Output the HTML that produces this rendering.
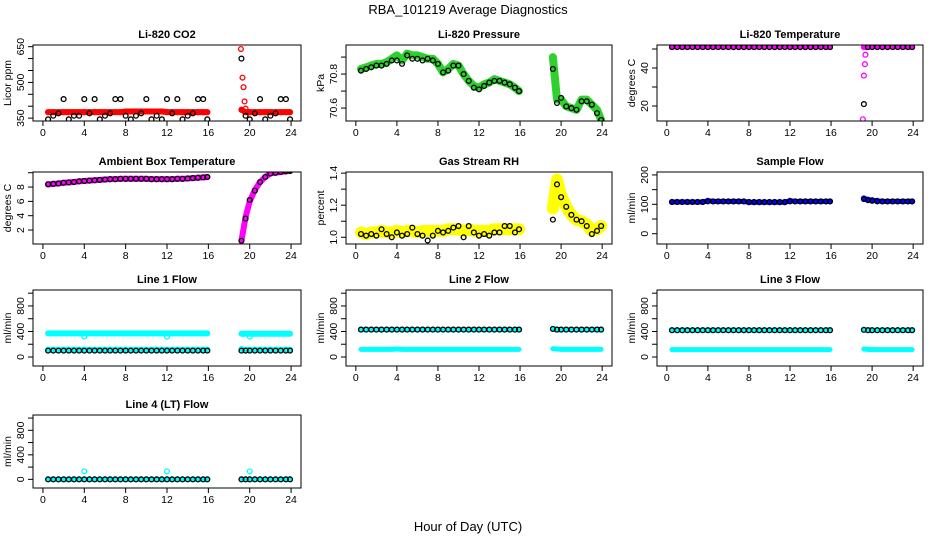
<!DOCTYPE html>
<html><head><meta charset="utf-8">
<style>
html,body{margin:0;padding:0;background:#fff;}
svg{display:block;font-family:"Liberation Sans",Arial,sans-serif;}
</style></head>
<body>
<svg id="chart" width="936" height="540" viewBox="0 0 936 540" xmlns="http://www.w3.org/2000/svg">
<text x="468" y="14" text-anchor="middle" font-size="13">RBA_101219  Average Diagnostics</text>
<text x="468" y="531" text-anchor="middle" font-size="13">Hour of Day (UTC)</text>
</svg>
<script>
// shared x categories (hour of day)
const hours = [0.5,1.0,1.5,2.0,2.5,3.0,3.5,4.0,4.5,5.0,5.5,6.0,6.5,7.0,7.5,8.0,8.5,9.0,9.5,10.0,10.5,11.0,11.5,12.0,12.5,13.0,13.5,14.0,14.5,15.0,15.5,15.9,
               19.2,19.6,20.0,20.5,21.0,21.5,22.0,22.5,23.0,23.5,23.9];
const xTicks = [0,4,8,12,16,20,24];

// Li-820 CO2
const co2Black = [345,360,370,430,345,360,360,430,370,430,345,360,370,430,430,360,345,360,370,430,345,360,345,430,370,430,345,360,370,430,430,345,
                  600,360,345,370,430,345,360,370,430,430,345];
const co2Red = [375,375,375,375,375,375,375,375,375,375,375,375,375,375,375,378,378,378,378,378,378,378,378,375,375,375,375,375,375,375,375,375,
                385,375,375,375,375,375,375,375,375,375,375];
const co2PeakT = [19.15,19.3,19.4,19.5,19.6];
const co2PeakV = [640,520,480,420,390];

// Li-820 Pressure
const presGreen = [70.83,70.84,70.85,70.86,70.86,70.87,70.89,70.91,70.88,70.92,70.91,70.91,70.90,70.89,70.89,70.86,70.81,70.83,70.86,70.85,70.80,70.76,70.73,70.72,70.74,70.75,70.77,70.76,70.75,70.74,70.72,70.70,
                   70.90,70.65,70.65,70.61,70.60,70.59,70.65,70.65,70.62,70.59,70.53];
const presBlack = [70.82,70.83,70.84,70.85,70.85,70.86,70.88,70.88,70.86,70.91,70.89,70.89,70.88,70.89,70.88,70.86,70.81,70.82,70.85,70.85,70.80,70.76,70.72,70.71,70.73,70.75,70.76,70.76,70.75,70.74,70.72,70.70,
                   70.83,70.63,70.66,70.61,70.60,70.59,70.64,70.64,70.62,70.57,70.53];

// Li-820 Temperature
const tempMag = [51,51,51,51,51,51,51,51,51,51,51,51,51,51,51,51,51,51,51,51,51,51,51,51,51,51,51,51,51,51,51,51,
                 51,51,51,51,51,51,51,51,51,51,51];
const tempBlack = [51,51,51,51,51,51,51,51,51,51,51,51,51,51,51,51,51,51,51,51,51,51,51,51,51,51,51,51,51,51,51,51,
                   21,51,51,51,51,51,51,51,51,51,51];
const tempPeakT = [19.1,19.2,19.3,19.35,19.45];
const tempPeakV = [13,36,42,47,51];

// Ambient box temperature
const ambMag = [8.35,8.45,8.5,8.6,8.65,8.7,8.8,8.85,8.9,8.95,9.0,9.05,9.1,9.1,9.15,9.15,9.15,9.15,9.15,9.15,9.1,9.1,9.1,9.1,9.1,9.15,9.15,9.2,9.25,9.3,9.35,9.4,
                0.5,3.8,6.0,7.6,8.7,9.4,9.9,10.0,10.1,10.2,10.25];
const ambBlack = [8.4,8.45,8.5,8.6,8.65,8.7,8.8,8.85,8.9,8.95,9.0,9.05,9.1,9.1,9.15,9.15,9.15,9.15,9.15,9.15,9.1,9.1,9.1,9.1,9.1,9.15,9.15,9.2,9.25,9.3,9.35,9.4,
                  0.5,3.6,6.2,7.5,8.7,9.4,9.9,10.0,10.1,10.2,10.25];

// Gas stream RH
const rhYellow = [1.03,1.02,1.03,1.03,1.04,1.03,1.03,1.04,1.03,1.04,1.04,1.03,1.04,1.04,1.04,1.04,1.04,1.05,1.05,1.05,1.04,1.05,1.04,1.04,1.04,1.04,1.05,1.05,1.05,1.05,1.05,1.05,
                  1.18,1.36,1.26,1.19,1.14,1.11,1.10,1.08,1.04,1.05,1.07];
const rhBlack = [1.02,1.01,1.02,1.01,1.05,1.02,1.0,1.03,1.01,1.02,1.06,1.02,1.01,0.98,1.01,1.04,1.03,1.04,1.06,1.07,1.0,1.07,1.03,1.01,1.02,1.01,1.03,1.03,1.07,1.07,1.03,1.05,
                 1.11,1.33,1.25,1.19,1.14,1.11,1.10,1.07,1.02,1.04,1.07];

// Sample flow
const sfBlue = [108,108,108,108,108,108,108,112,110,110,110,110,110,110,110,107,107,107,107,107,107,107,107,112,110,110,110,110,110,110,110,110,
                120,116,114,112,110,110,110,110,110,110,110];
const sfBlack = [108,108,108,108,108,108,108,110,110,110,110,110,110,110,110,108,108,108,108,108,108,108,108,110,110,110,110,110,110,110,110,110,
                 118,114,112,110,110,110,110,110,110,110,110];

// Line flows
const l1High = [370,370,370,370,370,370,370,370,370,370,370,370,370,370,370,370,370,370,370,370,370,370,370,370,370,370,370,370,370,370,370,370,
                365,365,365,365,365,365,365,365,365,365,365];
const l1Low = [115,115,115,115,115,115,115,115,115,115,115,115,115,115,115,115,115,115,115,115,115,115,115,115,115,115,115,115,115,115,115,115,
               125,115,115,115,115,115,115,115,115,115,115];
const l1Black = [100,100,100,100,100,100,100,100,100,100,100,100,100,100,100,100,100,100,100,100,100,100,100,100,100,100,100,100,100,100,100,100,
                 100,100,100,100,100,100,100,100,100,100,100];
const l2High = [430,430,430,430,430,430,430,430,430,430,430,430,430,430,430,430,430,430,430,430,430,430,430,430,430,430,430,430,430,430,430,430,
                440,430,430,430,430,430,430,430,430,430,430];
const l2Low = [120,120,120,120,120,120,120,125,120,120,120,120,120,120,120,120,120,120,120,120,120,120,120,120,120,120,120,120,120,120,120,120,
               130,125,120,120,120,120,120,120,120,120,120];
const l2Black = [430,430,430,430,430,430,430,430,430,430,430,430,430,430,430,430,430,430,430,430,430,430,430,430,430,430,430,430,430,430,430,430,
                 440,430,430,430,430,430,430,430,430,430,430];
const l3High = [420,420,420,420,420,420,420,420,420,420,420,420,420,420,420,420,420,420,420,420,420,420,420,420,420,420,420,420,420,420,420,420,
                430,420,420,420,420,420,420,420,420,420,420];
const l3Low = [115,115,115,115,115,115,115,115,115,115,115,115,115,115,115,115,115,115,115,115,115,115,115,115,115,115,115,115,115,115,115,115,
               125,120,115,115,115,115,115,115,115,115,115];
const l3Black = [420,420,420,420,420,420,420,420,420,420,420,420,420,420,420,420,420,420,420,420,420,420,420,420,420,420,420,420,420,420,420,420,
                 425,420,420,420,420,420,420,420,420,420,420];
const l4Cyan = [0,0,0,0,0,0,0,0,0,0,0,0,0,0,0,0,0,0,0,0,0,0,0,0,0,0,0,0,0,0,0,0,
                0,0,0,0,0,0,0,0,0,0,0];
const l4Black = [0,0,0,0,0,0,0,0,0,0,0,0,0,0,0,0,0,0,0,0,0,0,0,0,0,0,0,0,0,0,0,0,
                 0,0,0,0,0,0,0,0,0,0,0];
const l4SpikeT = [4,12,20];
const l4SpikeV = [130,130,130];
const l1DipT = [4,12,20];
const l1DipV = [320,320,320];

const NS = 'http://www.w3.org/2000/svg';
const svg = document.getElementById('chart');
function mk(tag, attrs, parent){
  const e = document.createElementNS(NS, tag);
  for (const k in attrs) e.setAttribute(k, attrs[k]);
  (parent||svg).appendChild(e);
  return e;
}
const cols = [[33,301],[346,612],[657,923]];
const rows = [[45,121],[172,244],[290,366],[415,488]];

function panel(o){
  const [x0,x1] = cols[o.c], [y0,y1] = rows[o.r];
  const g = mk('g', {});
  
  
  const xs = h => x0 + (h + 0.96) / 25.92 * (x1 - x0);
  const ys = v => y1 - (v - o.dom[0]) / (o.dom[1] - o.dom[0]) * (y1 - y0);
  const clipId = 'clip-' + o.name;
  const cp = mk('clipPath', {id: clipId}, g);
  mk('rect', {x: x0, y: y0, width: x1 - x0, height: y1 - y0}, cp);
  const plot = mk('g', {'clip-path': 'url(#' + clipId + ')'}, g);
  
  
  o.series.forEach(s => {
    const t = s.t || hours;
    if (s.band) {
      let segs = [[]];
      t.forEach((h, i) => {
        const cur = segs[segs.length - 1];
        if (cur.length && h - t[i-1] > 2) segs.push([]);
        segs[segs.length - 1].push([xs(h), ys(s.v[i])]);
      });
      segs.forEach(sg => {
        const p = mk('polyline', {points: sg.map(q => q.join(',')).join(' '), fill: 'none', stroke: s.color,
          'stroke-width': s.band, 'stroke-linecap': 'round', 'stroke-linejoin': 'round'}, plot);
        
        
      });
    }
    if (s.pts !== false) {
      t.forEach((h, i) => {
        const c = mk('circle', {cx: xs(h), cy: ys(s.v[i]), r: s.r || 2.4, fill: 'none', stroke: s.color, 'stroke-width': 1.3}, plot);
        
        
      });
    }
  });
  const box = mk('rect', {x: x0, y: y0, width: x1 - x0, height: y1 - y0, fill: 'none', stroke: '#000', 'stroke-width': 1}, g);
  
  
  xTicks.forEach(v => {
    const x = xs(v);
    mk('line', {x1: x, x2: x, y1: y1, y2: y1 + 5, stroke: '#000'}, g);
    const tl = mk('text', {x: x, y: y1 + 15, 'text-anchor': 'middle', 'font-size': 10.5}, g);
    tl.textContent = v;
    
    
  });
  o.yticks.forEach(v => {
    const y = ys(v);
    if (y < y0 - 6 || y > y1 + 6) return;
    mk('line', {x1: x0, x2: x0 - 5, y1: y, y2: y, stroke: '#000'}, g);
  });
  o.ylabels.forEach(v => {
    const y = ys(v);
    const tl = mk('text', {x: x0 - 9, y: y, 'text-anchor': 'middle', 'font-size': 10.5, transform: 'rotate(-90 ' + (x0 - 9) + ' ' + y + ')'}, g);
    tl.textContent = v;
    
    
  });
  const yl = mk('text', {x: x0 - 22, y: (y0 + y1) / 2, 'text-anchor': 'middle', 'font-size': 10.5,
    transform: 'rotate(-90 ' + (x0 - 22) + ' ' + ((y0 + y1) / 2) + ')'}, g);
  yl.textContent = o.ylab;
  
  
  const tt = mk('text', {x: (x0 + x1) / 2, y: y0 - 7, 'text-anchor': 'middle', 'font-size': 11, 'font-weight': 'bold'}, g);
  tt.textContent = o.title;
  
  
}

const flowTicks = [0,200,400,600,800,1000];
const flowLabels = [0,400,800];

panel({name:'co2-panel', c:0, r:0, title:'Li-820 CO2', ylab:'Licor ppm', dom:[338,657],
  yticks:[350,400,450,500,550,600,650], ylabels:[350,500,650],
  series:[{name:'co2-red', v:co2Red, color:'#ff0000', band:6},
          {name:'co2-red-peak', t:co2PeakT, v:co2PeakV, color:'#ff0000'},
          {name:'co2-black', v:co2Black, color:'#000'}]});
panel({name:'pressure-panel', c:1, r:0, title:'Li-820 Pressure', ylab:'kPa', dom:[70.524,70.971],
  yticks:[70.6,70.7,70.8,70.9], ylabels:[70.6,70.8],
  series:[{name:'pressure-green', v:presGreen, color:'#2ed12e', band:8},
          {name:'pressure-black', v:presBlack, color:'#000'}]});
panel({name:'licor-temp-panel', c:2, r:0, title:'Li-820 Temperature', ylab:'degrees C', dom:[12.1,52.1],
  yticks:[20,30,40,50], ylabels:[20,40],
  series:[{name:'temp-magenta', v:tempMag, color:'#ff00ff', band:4},
          {name:'temp-magenta-peak', t:tempPeakT, v:tempPeakV, color:'#ff00ff'},
          {name:'temp-black', v:tempBlack, color:'#000'}]});
panel({name:'ambient-temp-panel', c:0, r:1, title:'Ambient Box Temperature', ylab:'degrees C', dom:[0.05,10.1],
  yticks:[2,4,6,8,10], ylabels:[2,4,6,8],
  series:[{name:'ambient-magenta', v:ambMag, color:'#ff00ff', band:6},
          {name:'ambient-black', v:ambBlack, color:'#000'}]});
panel({name:'rh-panel', c:1, r:1, title:'Gas Stream RH', ylab:'percent', dom:[0.958,1.407],
  yticks:[1.0,1.1,1.2,1.3,1.4], ylabels:['1.0','1.2','1.4'],
  series:[{name:'rh-yellow', v:rhYellow, color:'#ffff00', band:12},
          {name:'rh-black', v:rhBlack, color:'#000'}]});
panel({name:'sample-flow-panel', c:2, r:1, title:'Sample Flow', ylab:'ml/min', dom:[-35,210],
  yticks:[0,50,100,150,200], ylabels:[0,100,200],
  series:[{name:'sample-blue', v:sfBlue, color:'#0000ff', band:5},
          {name:'sample-black', v:sfBlack, color:'#000'}]});
panel({name:'line1-flow-panel', c:0, r:2, title:'Line 1 Flow', ylab:'ml/min', dom:[-141,1050],
  yticks:flowTicks, ylabels:flowLabels,
  series:[{name:'line1-cyan-high', v:l1High, color:'#00ffff', band:6, pts:false},
          {name:'line1-cyan-dip', t:l1DipT, v:l1DipV, color:'#00ffff'},
          {name:'line1-cyan-low', v:l1Low, color:'#00ffff', band:5},
          {name:'line1-black', v:l1Black, color:'#000'}]});
panel({name:'line2-flow-panel', c:1, r:2, title:'Line 2 Flow', ylab:'ml/min', dom:[-141,1050],
  yticks:flowTicks, ylabels:flowLabels,
  series:[{name:'line2-cyan-high', v:l2High, color:'#00ffff', band:5},
          {name:'line2-cyan-low', v:l2Low, color:'#00ffff', band:5, pts:false},
          {name:'line2-black', v:l2Black, color:'#000'}]});
panel({name:'line3-flow-panel', c:2, r:2, title:'Line 3 Flow', ylab:'ml/min', dom:[-141,1050],
  yticks:flowTicks, ylabels:flowLabels,
  series:[{name:'line3-cyan-high', v:l3High, color:'#00ffff', band:5},
          {name:'line3-cyan-low', v:l3Low, color:'#00ffff', band:5, pts:false},
          {name:'line3-black', v:l3Black, color:'#000'}]});
panel({name:'line4-flow-panel', c:0, r:3, title:'Line 4 (LT) Flow', ylab:'ml/min', dom:[-141,1050],
  yticks:flowTicks, ylabels:flowLabels,
  series:[{name:'line4-cyan', v:l4Cyan, color:'#00ffff', band:5},
          {name:'line4-cyan-spike', t:l4SpikeT, v:l4SpikeV, color:'#00ffff'},
          {name:'line4-black', v:l4Black, color:'#000'}]});
</script>
</body></html>
